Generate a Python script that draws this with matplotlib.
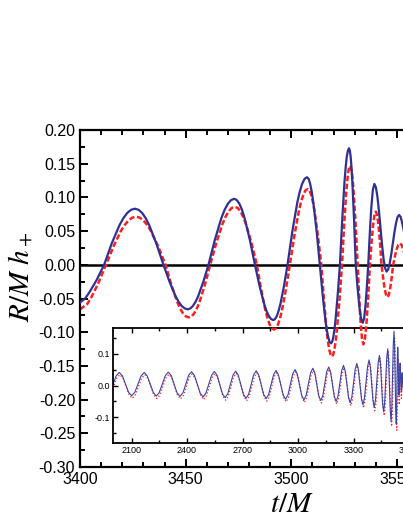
import numpy as np
import matplotlib
matplotlib.use('Agg')
import matplotlib.pyplot as plt
from matplotlib.ticker import MultipleLocator, FormatStrFormatter

plt.rcParams['font.family'] = ['Liberation Sans', 'DejaVu Sans']
plt.rcParams['mathtext.fontset'] = 'stix'
plt.rcParams['axes.unicode_minus'] = False

# main panel: (t/M, R/M h+)
main_blue = [
    (3400, -0.056), (3402.4, -0.0499), (3404.2, -0.042), (3407.8, -0.023), (3411.4, 0.0),
    (3415.05, 0.032), (3418.7, 0.0589), (3420.5, 0.0692), (3422.35, 0.077), (3424.2, 0.0817),
    (3426, 0.0833),
    (3427.7, 0.0817), (3429.4, 0.077), (3431.1, 0.0692), (3432.75, 0.0589), (3436.1, 0.0319),
    (3439.5, 0.0),
    (3442.4, -0.0253), (3445.25, -0.0467), (3446.7, -0.0548), (3448.1, -0.061), (3449.6, -0.0647),
    (3451, -0.066),
    (3452.2, -0.0647), (3453.45, -0.061), (3454.7, -0.0548), (3455.9, -0.0467), (3458.35, -0.0253),
    (3460.8, 0.0),
    (3463.85, 0.0375), (3466.9, 0.0693), (3468.4, 0.0814), (3469.95, 0.0906), (3471.5, 0.0961),
    (3473, 0.098),
    (3474.2, 0.0961), (3475.45, 0.0906), (3476.7, 0.0814), (3477.9, 0.0693), (3480.35, 0.0375),
    (3482.8, 0.0),
    (3484.98, -0.0314), (3487.15, -0.058), (3488.2, -0.0681), (3489.33, -0.0758), (3490.4, -0.0804),
    (3491.5, -0.082),
    (3492.3, -0.0804), (3493.18, -0.0758), (3494.0, -0.0681), (3494.85, -0.058), (3496.53, -0.0314),
    (3498.2, 0.0),
    (3500.5, 0.0498), (3502.8, 0.0919), (3503.95, 0.108), (3505.1, 0.120), (3506.25, 0.1275),
    (3507.4, 0.130),
    (3508.2, 0.1275), (3508.93, 0.120), (3509.7, 0.108), (3510.45, 0.0919), (3511.98, 0.0498),
    (3513.5, 0.0),
    (3514.83, -0.0446), (3516.15, -0.0824), (3516.8, -0.0968), (3517.48, -0.1076), (3518.1, -0.1143),
    (3518.8, -0.1165),
    (3519.3, -0.1143), (3519.85, -0.1076), (3520.4, -0.0968), (3520.9, -0.0824), (3521.95, -0.0446),
    (3523, 0.0),
    (3524.08, 0.0662), (3525.15, 0.1223), (3525.7, 0.1438), (3526.23, 0.160), (3526.8, 0.1697),
    (3527.3, 0.173),
    (3527.7, 0.1697), (3528.1, 0.160), (3528.5, 0.1438), (3528.9, 0.1223), (3529.7, 0.0662),
    (3530.5, 0.0),
    (3531.33, -0.0329), (3532.15, -0.0608), (3532.98, -0.0795), (3533.8, -0.086),
    (3534.45, -0.0795), (3535.1, -0.0608), (3535.75, -0.0329), (3536.4, 0.0),
    (3537.13, 0.046), (3537.85, 0.0848), (3538.58, 0.111), (3539.3, 0.120),
    (3540.03, 0.115), (3540.75, 0.101), (3541.48, 0.0799), (3542.2, 0.055),
    (3542.93, 0.0301), (3543.65, 0.009), (3544.38, -0.005), (3545.1, -0.010),
    (3545.84, -0.0068), (3546.58, 0.0023), (3547.31, 0.0159), (3548.05, 0.032),
    (3548.79, 0.0481), (3549.53, 0.0617), (3550.26, 0.0708), (3551, 0.074),
    (3551.75, 0.071), (3552.5, 0.062), (3553.25, 0.050), (3554, 0.035),
    (3556, 0.0),
]
main_red = [
    (3400, -0.066), (3403.4, -0.0582), (3405.15, -0.0495), (3408.73, -0.0268), (3412.3, 0.0),
    (3415.85, 0.0273), (3419.4, 0.0505), (3421.2, 0.0593), (3422.95, 0.066), (3424.7, 0.070),
    (3426.5, 0.0714),
    (3428.25, 0.070), (3430, 0.066), (3431.75, 0.0593), (3433.5, 0.0505), (3437, 0.0273),
    (3440.5, 0.0),
    (3443.25, -0.0299), (3446, -0.0551), (3447.4, -0.0648), (3448.75, -0.0721), (3450.1, -0.0765),
    (3451.5, -0.078),
    (3452.8, -0.0765), (3454.03, -0.0721), (3455.3, -0.0648), (3456.55, -0.0551), (3459.08, -0.0299),
    (3461.6, 0.0),
    (3464.53, 0.0329), (3467.45, 0.0608), (3468.9, 0.0715), (3470.38, 0.0795), (3471.8, 0.0844),
    (3473.3, 0.086),
    (3474.6, 0.0844), (3475.9, 0.0795), (3477.2, 0.0715), (3478.5, 0.0608), (3481.1, 0.0329),
    (3483.7, 0.0),
    (3485.73, -0.0367), (3487.75, -0.0679), (3488.8, -0.0798), (3489.78, -0.0887), (3490.8, -0.0942),
    (3491.8, -0.096),
    (3492.7, -0.0942), (3493.68, -0.0887), (3494.6, -0.0798), (3495.55, -0.0679), (3497.43, -0.0367),
    (3499.3, 0.0),
    (3501.43, 0.0431), (3503.55, 0.0795), (3504.6, 0.0935), (3505.68, 0.1039), (3506.7, 0.1104),
    (3507.8, 0.1125),
    (3508.6, 0.1104), (3509.4, 0.1039), (3510.2, 0.0935), (3511, 0.0795), (3512.6, 0.0431),
    (3514.2, 0.0),
    (3515.45, -0.0521), (3516.7, -0.0962), (3517.3, -0.113), (3517.95, -0.1257), (3518.6, -0.1334),
    (3519.2, -0.136),
    (3519.8, -0.1334), (3520.4, -0.1257), (3521.0, -0.113), (3521.6, -0.0962), (3522.8, -0.0521),
    (3524.0, 0.0),
    (3524.95, 0.0563), (3525.9, 0.1039), (3526.4, 0.122), (3526.85, 0.1358), (3527.3, 0.144),
    (3527.8, 0.147),
    (3528.25, 0.144), (3528.7, 0.1358), (3529.15, 0.122), (3529.6, 0.1039), (3530.5, 0.0563),
    (3531.4, 0.0),
    (3532.08, -0.0452), (3532.75, -0.0834), (3533.43, -0.109), (3534.1, -0.118),
    (3534.88, -0.109), (3535.65, -0.0834), (3536.43, -0.0452), (3537.2, 0.0),
    (3537.9, 0.0303), (3538.6, 0.0559), (3539.3, 0.073), (3540, 0.079),
    (3540.68, 0.073), (3541.35, 0.0559), (3542.03, 0.0303), (3542.7, 0.0),
    (3543.4, -0.0184), (3544.1, -0.0339), (3544.8, -0.0443), (3545.5, -0.048),
    (3546.18, -0.0443), (3546.85, -0.0339), (3547.53, -0.0184), (3548.2, 0.0),
    (3549, 0.0122), (3549.8, 0.0226), (3550.6, 0.0296), (3551.4, 0.032),
    (3552.2, 0.0296), (3553, 0.0226), (3553.8, 0.0122), (3554.6, 0.0),
    (3556, -0.02),
]

# inset, whole run
inset_blue = [
    (2000, 0.004), (2017, 0.030), (2034, 0.041), (2051, 0.030), (2067.5, 0.0045),
    (2084, -0.021), (2101, -0.032), (2118, -0.021), (2135, 0.0045), (2152, 0.030),
    (2169, 0.041), (2185, 0.030), (2201.5, 0.004), (2218, -0.022), (2234, -0.033),
    (2250, -0.022), (2266.5, 0.0045), (2283, 0.031), (2299, 0.042), (2315, 0.031),
    (2330.5, 0.004), (2346, -0.023), (2362, -0.034), (2378, -0.023), (2393.5, 0.0045),
    (2409, 0.032), (2425, 0.043), (2440.5, 0.031), (2456, 0.0035), (2471.5, -0.024),
    (2487, -0.036), (2502, -0.024), (2517.5, 0.004), (2533, 0.032), (2548, 0.044),
    (2562.5, 0.032), (2577, 0.003), (2591.5, -0.026), (2606, -0.038), (2620, -0.026),
    (2634.5, 0.0035), (2649, 0.033), (2663, 0.045), (2677, 0.0325), (2691, 0.0025),
    (2705, -0.0275), (2719, -0.040), (2733, -0.0275), (2746.5, 0.003), (2760, 0.0334),
    (2774, 0.046), (2787.5, 0.033), (2801, 0.0025), (2814.5, -0.028), (2828, -0.041),
    (2841, -0.028), (2854.5, 0.003), (2868, 0.034), (2881, 0.047), (2894, 0.034),
    (2907, 0.002), (2920, -0.030), (2933, -0.043), (2946, -0.029), (2958.5, 0.0035),
    (2971, 0.036), (2984, 0.050), (2996, 0.036), (3008, 0.0025), (3020, -0.031),
    (3032, -0.045), (3044, -0.0305), (3056, 0.0045), (3068, 0.0395), (3080, 0.054),
    (3091, 0.039), (3101.5, 0.0035), (3112, -0.032), (3123, -0.047), (3134, -0.032),
    (3144.5, 0.0055), (3155, 0.043), (3166, 0.058), (3176, 0.042), (3186, 0.004),
    (3196, -0.034), (3206, -0.050), (3216, -0.0335), (3226, 0.0065), (3236, 0.0465),
    (3246, 0.063), (3255, 0.046), (3264, 0.0045), (3273, -0.037), (3282, -0.054),
    (3291, -0.036), (3300, 0.0075), (3309, 0.051), (3318, 0.069), (3326, 0.050),
    (3334.5, 0.0045), (3343, -0.041), (3351, -0.060), (3359, -0.0395), (3367.5, 0.010),
    (3376, 0.0595), (3384, 0.080), (3391, 0.058), (3398, 0.006), (3405, -0.046),
    (3412, -0.068), (3419, -0.044), (3426, 0.013), (3433, 0.070), (3440, 0.094),
    (3446, 0.068), (3451.5, 0.006), (3457, -0.056), (3463, -0.082), (3468.5, -0.053),
    (3474, 0.0165), (3479.5, 0.086), (3485, 0.115), (3489.5, 0.0815), (3494, 0.0015),
    (3498.5, -0.0785), (3503, -0.112), (3507, -0.071), (3511, 0.029), (3515, 0.129),
    (3519, 0.170), (3522, 0.1275), (3525, 0.025), (3528, -0.0775), (3531, -0.120),
    (3533, -0.085), (3535, 0.0), (3537, 0.085), (3539, 0.120), (3541, 0.098),
    (3542.5, 0.045), (3544, -0.008), (3546, -0.030), (3547.5, -0.015), (3549, 0.020),
    (3550.5, 0.055), (3552, 0.070), (3555, 0.025), (3558, -0.020), (3560.5, 0.010),
    (3563, 0.040), (3566, 0.010), (3570, -0.010),
]
inset_red = [
    (2000, -0.008), (2020, 0.023), (2037, 0.034), (2054, 0.023), (2070.5, -0.003),
    (2087, -0.029), (2104, -0.040), (2121, -0.029), (2138, -0.003), (2155, 0.023),
    (2172, 0.034), (2188, 0.023), (2204.5, -0.003), (2221, -0.030), (2237, -0.041),
    (2253, -0.030), (2269.5, -0.003), (2286, 0.024), (2302, 0.035), (2318, 0.024),
    (2333.5, -0.003), (2349, -0.031), (2365, -0.042), (2381, -0.031), (2396.5, -0.003),
    (2412, 0.025), (2428, 0.036), (2443.5, 0.024), (2459, -0.004), (2474.5, -0.032),
    (2490, -0.044), (2505, -0.032), (2520.5, -0.003), (2536, 0.025), (2551, 0.037),
    (2565.5, 0.025), (2580, -0.004), (2594.5, -0.034), (2609, -0.046), (2623, -0.034),
    (2637.5, -0.004), (2652, 0.026), (2666, 0.038), (2680, 0.025), (2694, -0.005),
    (2708, -0.035), (2722, -0.048), (2736, -0.035), (2749.5, -0.004), (2763, 0.026),
    (2777, 0.039), (2790.5, 0.026), (2804, -0.005), (2817.5, -0.036), (2831, -0.049),
    (2844, -0.036), (2857.5, -0.004), (2871, 0.027), (2884, 0.040), (2897, 0.027),
    (2910, -0.006), (2923, -0.038), (2936, -0.051), (2949, -0.037), (2961.5, -0.004),
    (2974, 0.029), (2987, 0.043), (2999, 0.029), (3011, -0.005), (3023, -0.039),
    (3035, -0.053), (3047, -0.038), (3059, -0.003), (3071, 0.032), (3083, 0.047),
    (3094, 0.032), (3104.5, -0.004), (3115, -0.040), (3126, -0.055), (3137, -0.040),
    (3147.5, -0.002), (3158, 0.036), (3169, 0.051), (3179, 0.035), (3189, -0.004),
    (3199, -0.042), (3209, -0.058), (3219, -0.042), (3229, -0.001), (3239, 0.039),
    (3249, 0.056), (3258, 0.039), (3267, -0.003), (3276, -0.045), (3285, -0.063),
    (3294, -0.045), (3303, 0.000), (3312, 0.044), (3321, 0.062), (3329, 0.043),
    (3337.5, -0.004), (3346, -0.050), (3354, -0.070), (3362, -0.049), (3370.5, 0.002),
    (3379, 0.052), (3387, 0.073), (3394, 0.051), (3401, -0.002), (3408, -0.056),
    (3415, -0.079), (3422, -0.055), (3429, 0.005), (3436, 0.062), (3443, 0.086),
    (3449, 0.060), (3454.5, -0.003), (3460, -0.066), (3466, -0.094), (3471.5, -0.064),
    (3477, 0.008), (3482.5, 0.078), (3488, 0.106), (3492.5, 0.072), (3497, -0.008),
    (3501.5, -0.090), (3506, -0.128), (3510, -0.085), (3514, 0.016), (3518, 0.115),
    (3522, 0.148), (3525, 0.105), (3528, 0.005), (3531, -0.100), (3534, -0.140),
    (3536, -0.100), (3538, -0.015), (3540, 0.065), (3542, 0.085), (3543.5, 0.045),
    (3545, -0.020), (3547, -0.060), (3548.5, -0.040), (3550, 0.000), (3551.5, 0.025),
    (3553, 0.035), (3556, 0.000), (3559, -0.040), (3561.5, -0.015), (3564, 0.015),
    (3567, -0.005), (3570, -0.020),
]

mb = np.array(main_blue)
mr = np.array(main_red)
ib = np.array(inset_blue)
ir = np.array(inset_red)

blue = '#2E3192'
red = '#FF1E1E'

fig = plt.figure(figsize=(4.03, 5.21), dpi=100)
fig.patch.set_facecolor('white')

# main axes runs past the right edge of the figure (cropped like the original)
ax = fig.add_axes([0.1985, 0.1036, 1.0487, 0.6468])
ax.patch.set_visible(False)

axin = fig.add_axes([0.2804, 0.1497, 0.7345, 0.2207], zorder=-1)

ax.axhline(0, color='k', lw=1.8, zorder=1)
ax.plot(mr[:, 0], mr[:, 1], color=red, lw=1.8, ls=(0, (2.2, 1.0)), zorder=2)
ax.plot(mb[:, 0], mb[:, 1], color=blue, lw=1.6, zorder=3, solid_joinstyle='round')

ax.set_xlim(3400, 3600)
ax.set_ylim(-0.30, 0.20)
ax.xaxis.set_major_locator(MultipleLocator(50))
ax.xaxis.set_minor_locator(MultipleLocator(10))
ax.yaxis.set_major_locator(MultipleLocator(0.05))
ax.yaxis.set_minor_locator(MultipleLocator(0.025))
ax.yaxis.set_major_formatter(FormatStrFormatter('%.2f'))
ax.tick_params(which='both', direction='in', top=True, right=True, width=1.4)
ax.tick_params(which='major', length=6, labelsize=11.5)
ax.tick_params(which='minor', length=3.5)
for s in ax.spines.values():
    s.set_linewidth(1.6)

ax.set_xlabel(r'$t/M$', fontsize=21, labelpad=2.5)
ax.set_ylabel(r'$R/M\ h_+$', fontsize=21)
ax.yaxis.set_label_coords(-0.108, 0.565)

# inset
axin.plot(ir[:, 0], ir[:, 1], color=red, lw=0.9, ls=':')
axin.plot(ib[:, 0], ib[:, 1], color='#3A43A8', lw=0.8)
axin.set_xlim(2000, 3600)
axin.set_ylim(-0.18, 0.18)
axin.xaxis.set_major_locator(MultipleLocator(300))
axin.xaxis.set_minor_locator(MultipleLocator(150))
axin.yaxis.set_major_locator(MultipleLocator(0.1))
axin.yaxis.set_minor_locator(MultipleLocator(0.05))
axin.yaxis.set_major_formatter(FormatStrFormatter('%.1f'))
axin.tick_params(which='both', direction='in', top=True, right=True, width=1.0,
                 labelsize=6.5, pad=2)
axin.tick_params(which='major', length=3.5)
axin.tick_params(which='minor', length=2)
for s in axin.spines.values():
    s.set_linewidth(1.3)

fig.savefig('out.png', dpi=100)
